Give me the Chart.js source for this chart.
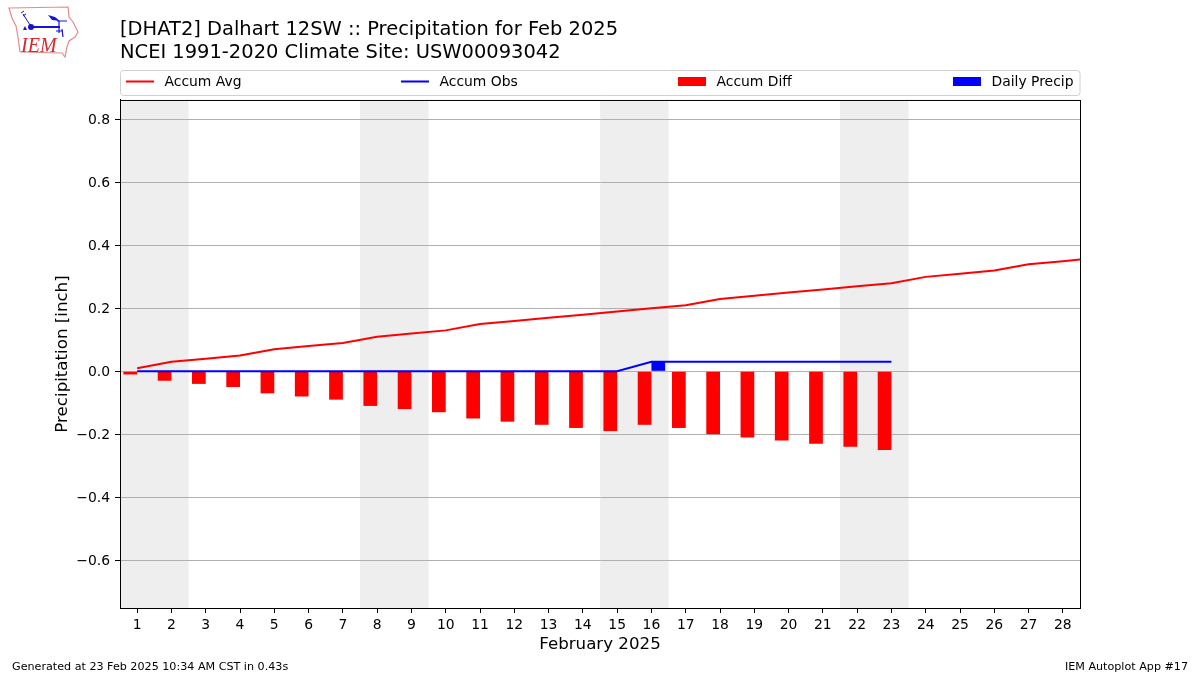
<!DOCTYPE html>
<html>
<head>
<meta charset="utf-8">
<title>Dalhart 12SW precipitation</title>
<script src="https://cdn.jsdelivr.net/npm/chart.js@4/dist/chart.umd.min.js"></script>
<style>
  html, body { margin: 0; padding: 0; background: #fff; }
  #wrap { position: relative; width: 1200px; height: 675px; overflow: hidden; }
  #logo { position: absolute; left: 0; top: 0; }
</style>
</head>
<body>
<div id="wrap">
  <canvas id="chart" width="1200" height="675"></canvas>
  <svg id="logo" width="85" height="62" viewBox="0 0 85 62">
    <path d="M9 8 L68 7 L69 17 L73 22 L78 32 L75 37 L69 41 L67 47 L65 57 L62 53 L20 52 L18 37 L16 26 L12 18 Z" fill="#fff" stroke="#e58a8a" stroke-width="1.2"/>
    <g stroke="#1414d8" fill="none">
      <path d="M32 27 H60" stroke-width="2"/>
      <path d="M23 14 L30 25 M21 13 L24 11 M23 16 L26 14" stroke-width="1"/>
      <path d="M57 21 H67" stroke-width="1"/>
      <path d="M59 21 L59 33 M56 31 H63 M62 29 L63 37" stroke-width="1.2"/>
    </g>
    <circle cx="31" cy="27" r="3" fill="#1414d8"/>
    <path d="M48 15 L55 17 L60 21 L52 20 Z" fill="#1414d8"/>
    <path d="M25 26 L27 30 H23 Z" fill="#1414d8"/>
    <text x="21" y="52" font-family="Liberation Serif" font-style="italic" font-size="20" fill="#d8282f">IEM</text>
  </svg>
</div>
<script>
const days = [1, 2, 3, 4, 5, 6, 7, 8, 9, 10, 11, 12, 13, 14, 15, 16, 17, 18, 19, 20, 21, 22, 23, 24, 25, 26, 27, 28];
// the average line runs on past the last day, it gets clipped at the frame
const avgDays = days.concat([29]);
const accumAvg = [0.01, 0.03, 0.04, 0.05, 0.07, 0.08, 0.09, 0.11, 0.12, 0.13, 0.15, 0.16, 0.17, 0.18, 0.19, 0.20, 0.21, 0.23, 0.24, 0.25, 0.26, 0.27, 0.28, 0.30, 0.31, 0.32, 0.34, 0.35, 0.36];
const obsDays = days.slice(0, 23);
const accumObs = [0, 0, 0, 0, 0, 0, 0, 0, 0, 0, 0, 0, 0, 0, 0, 0.03, 0.03, 0.03, 0.03, 0.03, 0.03, 0.03, 0.03];
const accumDiff = [-0.01, -0.03, -0.04, -0.05, -0.07, -0.08, -0.09, -0.11, -0.12, -0.13, -0.15, -0.16, -0.17, -0.18, -0.19, -0.17, -0.18, -0.20, -0.21, -0.22, -0.23, -0.24, -0.25];
const dailyPrecip = [0, 0, 0, 0, 0, 0, 0, 0, 0, 0, 0, 0, 0, 0, 0, 0.03, 0, 0, 0, 0, 0, 0, 0];
const weekendStarts = [1, 8, 15, 22];
const yTicks = [-0.6, -0.4, -0.2, 0, 0.2, 0.4, 0.6, 0.8];
const titleLines = ['[DHAT2] Dalhart 12SW :: Precipitation for Feb 2025', 'NCEI 1991-2020 Climate Site: USW00093042'];
const footerLeft = 'Generated at 23 Feb 2025 10:34 AM CST in 0.43s';
const footerRight = 'IEM Autoplot App #17';

const FONT = '"DejaVu Sans", sans-serif';
const pairs = (xs, ys) => ys.map((y, i) => ({ x: xs[i], y }));

const bandsPlugin = {
  id: 'weekendBands',
  beforeDraw(chart) {
    const { ctx, chartArea, scales } = chart;
    ctx.save();
    ctx.fillStyle = '#eeeeee';
    for (const d of weekendStarts) {
      const x0 = scales.x.getPixelForValue(d - 0.5);
      const x1 = scales.x.getPixelForValue(d + 1.5);
      ctx.fillRect(x0, chartArea.top, x1 - x0, chartArea.bottom - chartArea.top);
    }
    ctx.restore();
  },
};

const framePlugin = {
  id: 'frameAndText',
  afterDraw(chart) {
    const { ctx, chartArea } = chart;
    ctx.save();
    ctx.strokeStyle = '#000';
    ctx.lineWidth = 1;
    ctx.strokeRect(chartArea.left + 0.5, chartArea.top + 0.5, chartArea.right - chartArea.left, chartArea.bottom - chartArea.top);

    // legend box spread over the axes width, like mode=expand
    ctx.strokeStyle = '#d0d0d0';
    ctx.beginPath();
    ctx.roundRect(120.5, 70.5, 959.5, 25, 3);
    ctx.stroke();

    const slots = [126, 401, 678, 953];
    ctx.font = '13.9px ' + FONT;
    ctx.textBaseline = 'middle';
    chart.data.datasets.forEach((ds, i) => {
      const x = slots[i];
      if (ds.type === 'line') {
        ctx.strokeStyle = ds.borderColor;
        ctx.lineWidth = 2;
        ctx.beginPath();
        ctx.moveTo(x, 81.5);
        ctx.lineTo(x + 28, 81.5);
        ctx.stroke();
      } else {
        ctx.fillStyle = ds.backgroundColor;
        ctx.fillRect(x, 77, 28, 9);
      }
      ctx.fillStyle = '#000';
      ctx.textAlign = 'left';
      ctx.fillText(ds.label, x + 38.5, 82.5);
    });

    ctx.font = '11.15px ' + FONT;
    ctx.fillStyle = '#000';
    ctx.textAlign = 'left';
    ctx.fillText(footerLeft, 12, 667);
    ctx.textAlign = 'right';
    ctx.fillText(footerRight, 1188, 667);
    ctx.restore();
  },
};

new Chart(document.getElementById('chart').getContext('2d'), {
  type: 'bar',
  data: {
    datasets: [
      { type: 'line', label: 'Accum Avg', data: pairs(avgDays, accumAvg), borderColor: '#ff0000', borderWidth: 2, pointRadius: 0, tension: 0 },
      { type: 'line', label: 'Accum Obs', data: pairs(obsDays, accumObs), borderColor: '#0000ff', borderWidth: 2, pointRadius: 0, tension: 0 },
      { type: 'bar', label: 'Accum Diff', data: pairs(days, accumDiff), backgroundColor: '#ff0000', borderWidth: 0, categoryPercentage: 0.8, barPercentage: 1 },
      { type: 'bar', label: 'Daily Precip', data: pairs(days, dailyPrecip), backgroundColor: '#0000ff', borderWidth: 0, categoryPercentage: 0.8, barPercentage: 1 },
    ],
  },
  options: {
    responsive: false,
    animation: false,
    layout: { padding: { left: 0, right: 120, top: 0, bottom: 0 } },
    plugins: {
      legend: { display: false },
      tooltip: { enabled: false },
      title: {
        display: true,
        text: titleLines,
        align: 'start',
        fullSize: false,
        color: '#000',
        font: { family: FONT, size: 19.47, weight: 'normal', lineHeight: 1.16 },
        padding: { top: 19, bottom: 35.8 },
      },
    },
    scales: {
      x: {
        type: 'linear',
        min: 0.5,
        max: 28.5,
        offset: false,
        afterBuildTicks(scale) { scale.ticks = days.map((v) => ({ value: v })); },
        afterFit(scale) { scale.height = 67; },
        ticks: { color: '#000', font: { family: FONT, size: 13.9 }, padding: 4, maxRotation: 0, autoSkip: false, callback: (v) => String(v) },
        grid: { offset: false, drawOnChartArea: false, tickColor: '#000', tickLength: 5 },
        border: { color: '#000', width: 1 },
        title: { display: true, text: 'February 2025', color: '#000', font: { family: FONT, size: 16.67 }, padding: { top: 0, bottom: 20 } },
      },
      y: {
        min: -0.752,
        max: 0.862,
        afterBuildTicks(scale) { scale.ticks = yTicks.map((v) => ({ value: v })); },
        afterFit(scale) { scale.width = 120; },
        ticks: { color: '#000', font: { family: FONT, size: 13.9 }, padding: 5, labelOffset: 1, callback: (v) => v.toFixed(1).replace('-', '\u2212') },
        grid: { color: '#b0b0b0', lineWidth: 1, tickColor: '#000', tickLength: 5 },
        border: { color: '#000', width: 1 },
        title: { display: true, text: 'Precipitation [inch]', color: '#000', font: { family: FONT, size: 16.67 }, padding: { top: 53, bottom: 0 } },
      },
    },
  },
  plugins: [bandsPlugin, framePlugin],
});
</script>
</body>
</html>
